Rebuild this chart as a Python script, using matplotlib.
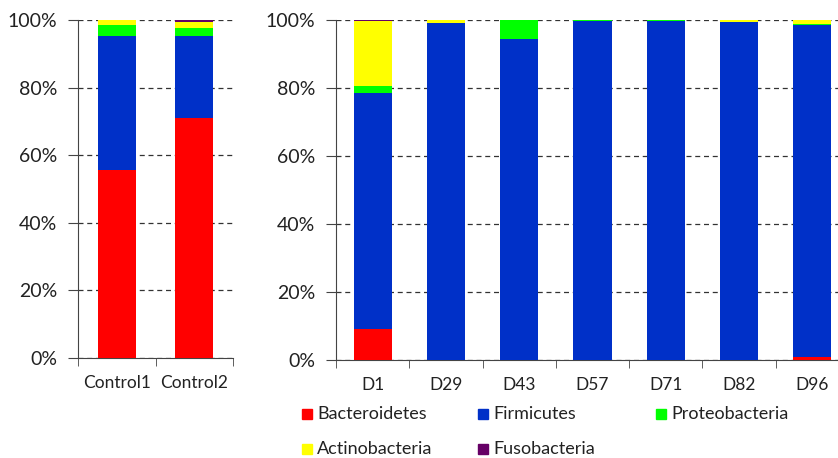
import matplotlib.pyplot as plt
from matplotlib.patches import Rectangle
import numpy as np

plt.rcParams['font.family'] = ['Lato', 'DejaVu Sans']

# phylum composition (%)
phyla = ['Bacteroidetes', 'Firmicutes', 'Proteobacteria', 'Actinobacteria', 'Fusobacteria']
colors = ['#ff0000', '#0030c8', '#00ff00', '#ffff00', '#660066']

controls = ['Control1', 'Control2']
control_vals = [
    [55.5, 71.0],   # Bacteroidetes
    [39.8, 24.3],   # Firmicutes
    [3.3, 2.3],     # Proteobacteria
    [1.3, 1.7],     # Actinobacteria
    [0.1, 0.7],     # Fusobacteria
]

days = ['D1', 'D29', 'D43', 'D57', 'D71', 'D82', 'D96']
day_vals = [
    [9.0, 0.0, 0.0, 0.0, 0.0, 0.0, 0.8],
    [69.5, 99.0, 94.4, 99.6, 99.8, 99.4, 97.7],
    [2.0, 0.0, 5.6, 0.4, 0.1, 0.0, 0.4],
    [19.2, 1.0, 0.0, 0.0, 0.1, 0.6, 1.1],
    [0.3, 0.0, 0.0, 0.0, 0.0, 0.0, 0.0],
]


def stacked(ax, labels, vals, width):
    n = len(labels)
    x = np.arange(n)
    bottom = np.zeros(n)
    for v, c in zip(vals, colors):
        v = np.array(v) / 100.0
        ax.bar(x, v, width, bottom=bottom, color=c, edgecolor='none', zorder=3)
        bottom += v
    ax.set_xlim(-0.5, n - 0.5)
    ax.set_ylim(0, 1)
    ticks = np.arange(0, 1.01, 0.2)
    ax.set_yticks(ticks)
    ax.set_yticklabels(['%d%%' % round(t * 100) for t in ticks])
    ax.set_xticks(x)
    ax.set_xticklabels(labels)
    ax.set_xticks(np.arange(-0.5, n, 1), minor=True)
    ax.tick_params(axis='x', which='major', length=0, pad=12, labelsize=12.5, colors='#222222')
    ax.tick_params(axis='x', which='minor', length=6, color='#444444')
    ax.tick_params(axis='y', length=7, pad=8, labelsize=14, color='#444444', labelcolor='#222222')
    ax.yaxis.grid(True, linestyle=(0, (4, 3)), color='#333333', linewidth=0.9, zorder=0)
    for s in ['top', 'right']:
        ax.spines[s].set_visible(False)
    ax.spines['left'].set_color('#444444')
    ax.spines['bottom'].set_color('#444444')
    for t in ax.xaxis.get_minor_ticks():
        t.tick1line.set_clip_on(False)


fig = plt.figure(figsize=(8.38, 4.58), dpi=100)
ax1 = fig.add_axes([78 / 838, 100 / 458, 155 / 838, 338 / 458])
ax2 = fig.add_axes([336 / 838, 98 / 458, 513 / 838, 340 / 458])
stacked(ax1, controls, control_vals, 0.49)
stacked(ax2, days, day_vals, 0.52)

# legend drawn by hand below the right panel
leg_x = [302, 478, 656]
leg_y = [414, 449]
for i, (name, c) in enumerate(zip(phyla, colors)):
    px = leg_x[i % 3]
    py = leg_y[i // 3]
    fig.add_artist(Rectangle((px / 838, (458 - py - 5) / 458), 10 / 838, 10 / 458,
                             transform=fig.transFigure, color=c))
    fig.text((px + 15) / 838, (458 - py) / 458, name, fontsize=13,
             va='center', ha='left', color='#222222')

fig.savefig('out.png', dpi=100)
